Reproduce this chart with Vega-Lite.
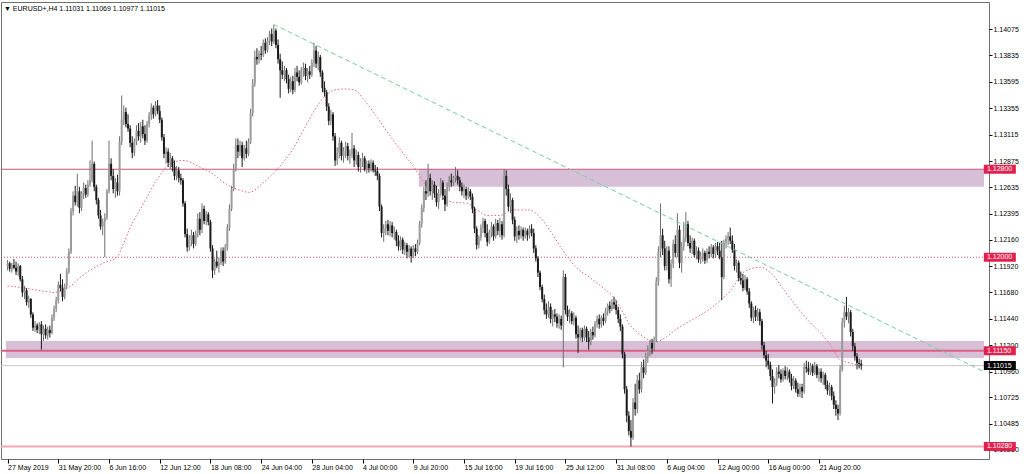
{
"$schema":"https://vega.github.io/schema/vega-lite/v6.json",
"width":988,"height":457,"autosize":{"type":"none"},
"padding":{"left":1,"top":2,"right":35,"bottom":15},
"background":"#ffffff",
"config":{"view":{"stroke":"#707070","strokeWidth":1},"font":"Liberation Sans","axis":{"labelOverlap":false,"labelBound":false,"labelFlush":false,"grid":false,"domain":false,"title":null}},
"title":{"text":"▼ EURUSD+,H4  1.11031 1.11069 1.10977 1.11015","anchor":"start","frame":"group","offset":-10,"dx":3,"font":"Liberation Sans","fontSize":7,"fontWeight":"normal","color":"#000000"},
"datasets":{
"bars":[
{"i":0,"o":1.11920,"h":1.11975,"l":1.11880,"c":1.11945},
{"i":1,"o":1.11945,"h":1.11960,"l":1.11870,"c":1.11895},
{"i":2,"o":1.11895,"h":1.11950,"l":1.11860,"c":1.11930},
{"i":3,"o":1.11930,"h":1.11985,"l":1.11890,"c":1.11905},
{"i":4,"o":1.11905,"h":1.11960,"l":1.11840,"c":1.11870},
{"i":5,"o":1.11870,"h":1.11945,"l":1.11830,"c":1.11920},
{"i":6,"o":1.11920,"h":1.11930,"l":1.11780,"c":1.11800},
{"i":7,"o":1.11800,"h":1.11830,"l":1.11640,"c":1.11680},
{"i":8,"o":1.11680,"h":1.11740,"l":1.11620,"c":1.11700},
{"i":9,"o":1.11700,"h":1.11720,"l":1.11560,"c":1.11590},
{"i":10,"o":1.11590,"h":1.11650,"l":1.11540,"c":1.11620},
{"i":11,"o":1.11620,"h":1.11630,"l":1.11450,"c":1.11480},
{"i":12,"o":1.11480,"h":1.11500,"l":1.11330,"c":1.11360},
{"i":13,"o":1.11360,"h":1.11420,"l":1.11320,"c":1.11380},
{"i":14,"o":1.11380,"h":1.11400,"l":1.11310,"c":1.11340},
{"i":15,"o":1.11340,"h":1.11410,"l":1.11300,"c":1.11390},
{"i":16,"o":1.11390,"h":1.11420,"l":1.11160,"c":1.11300},
{"i":17,"o":1.11300,"h":1.11380,"l":1.11240,"c":1.11350},
{"i":18,"o":1.11350,"h":1.11390,"l":1.11260,"c":1.11290},
{"i":19,"o":1.11290,"h":1.11370,"l":1.11250,"c":1.11340},
{"i":20,"o":1.11340,"h":1.11380,"l":1.11270,"c":1.11310},
{"i":21,"o":1.11310,"h":1.11480,"l":1.11300,"c":1.11450},
{"i":22,"o":1.11450,"h":1.11560,"l":1.11420,"c":1.11530},
{"i":23,"o":1.11530,"h":1.11640,"l":1.11500,"c":1.11610},
{"i":24,"o":1.11610,"h":1.11780,"l":1.11580,"c":1.11750},
{"i":25,"o":1.11750,"h":1.11850,"l":1.11690,"c":1.11720},
{"i":26,"o":1.11720,"h":1.11800,"l":1.11600,"c":1.11640},
{"i":27,"o":1.11640,"h":1.11760,"l":1.11620,"c":1.11740},
{"i":28,"o":1.11740,"h":1.11900,"l":1.11710,"c":1.11870},
{"i":29,"o":1.11870,"h":1.12080,"l":1.11850,"c":1.12050},
{"i":30,"o":1.12050,"h":1.12450,"l":1.12030,"c":1.12420},
{"i":31,"o":1.12420,"h":1.12600,"l":1.12380,"c":1.12560},
{"i":32,"o":1.12560,"h":1.12650,"l":1.12470,"c":1.12500},
{"i":33,"o":1.12500,"h":1.12760,"l":1.12460,"c":1.12600},
{"i":34,"o":1.12600,"h":1.12640,"l":1.12400,"c":1.12450},
{"i":35,"o":1.12450,"h":1.12600,"l":1.12420,"c":1.12580},
{"i":36,"o":1.12580,"h":1.12680,"l":1.12530,"c":1.12630},
{"i":37,"o":1.12630,"h":1.12660,"l":1.12540,"c":1.12570},
{"i":38,"o":1.12570,"h":1.12700,"l":1.12550,"c":1.12660},
{"i":39,"o":1.12660,"h":1.12880,"l":1.12640,"c":1.12700},
{"i":40,"o":1.12700,"h":1.13060,"l":1.12680,"c":1.12850},
{"i":41,"o":1.12850,"h":1.12870,"l":1.12600,"c":1.12640},
{"i":42,"o":1.12640,"h":1.12660,"l":1.12480,"c":1.12520},
{"i":43,"o":1.12520,"h":1.12540,"l":1.12350,"c":1.12380},
{"i":44,"o":1.12380,"h":1.12430,"l":1.12250,"c":1.12280},
{"i":45,"o":1.12280,"h":1.12350,"l":1.12200,"c":1.12320},
{"i":46,"o":1.12320,"h":1.12400,"l":1.12000,"c":1.12360},
{"i":47,"o":1.12360,"h":1.12620,"l":1.12340,"c":1.12600},
{"i":48,"o":1.12600,"h":1.13060,"l":1.12580,"c":1.12850},
{"i":49,"o":1.12850,"h":1.12900,"l":1.12700,"c":1.12740},
{"i":50,"o":1.12740,"h":1.12800,"l":1.12580,"c":1.12620},
{"i":51,"o":1.12620,"h":1.12720,"l":1.12540,"c":1.12680},
{"i":52,"o":1.12680,"h":1.12750,"l":1.12560,"c":1.12600},
{"i":53,"o":1.12600,"h":1.13100,"l":1.12560,"c":1.13050},
{"i":54,"o":1.13050,"h":1.13470,"l":1.13020,"c":1.13250},
{"i":55,"o":1.13250,"h":1.13380,"l":1.13200,"c":1.13320},
{"i":56,"o":1.13320,"h":1.13360,"l":1.13180,"c":1.13210},
{"i":57,"o":1.13210,"h":1.13300,"l":1.13140,"c":1.13170},
{"i":58,"o":1.13170,"h":1.13200,"l":1.13000,"c":1.13040},
{"i":59,"o":1.13040,"h":1.13100,"l":1.12900,"c":1.12950},
{"i":60,"o":1.12950,"h":1.13080,"l":1.12920,"c":1.13050},
{"i":61,"o":1.13050,"h":1.13200,"l":1.13020,"c":1.13150},
{"i":62,"o":1.13150,"h":1.13220,"l":1.13060,"c":1.13100},
{"i":63,"o":1.13100,"h":1.13230,"l":1.13040,"c":1.13190},
{"i":64,"o":1.13190,"h":1.13250,"l":1.13080,"c":1.13120},
{"i":65,"o":1.13120,"h":1.13200,"l":1.13020,"c":1.13060},
{"i":66,"o":1.13060,"h":1.13240,"l":1.13040,"c":1.13210},
{"i":67,"o":1.13210,"h":1.13320,"l":1.13180,"c":1.13290},
{"i":68,"o":1.13290,"h":1.13400,"l":1.13250,"c":1.13360},
{"i":69,"o":1.13360,"h":1.13380,"l":1.13260,"c":1.13300},
{"i":70,"o":1.13300,"h":1.13420,"l":1.13280,"c":1.13380},
{"i":71,"o":1.13380,"h":1.13430,"l":1.13300,"c":1.13330},
{"i":72,"o":1.13330,"h":1.13380,"l":1.13220,"c":1.13250},
{"i":73,"o":1.13250,"h":1.13270,"l":1.13060,"c":1.13090},
{"i":74,"o":1.13090,"h":1.13120,"l":1.12900,"c":1.12940},
{"i":75,"o":1.12940,"h":1.13000,"l":1.12850,"c":1.12960},
{"i":76,"o":1.12960,"h":1.12990,"l":1.12820,"c":1.12860},
{"i":77,"o":1.12860,"h":1.12950,"l":1.12800,"c":1.12900},
{"i":78,"o":1.12900,"h":1.12920,"l":1.12780,"c":1.12820},
{"i":79,"o":1.12820,"h":1.12880,"l":1.12700,"c":1.12740},
{"i":80,"o":1.12740,"h":1.12830,"l":1.12700,"c":1.12790},
{"i":81,"o":1.12790,"h":1.12820,"l":1.12680,"c":1.12720},
{"i":82,"o":1.12720,"h":1.12760,"l":1.12660,"c":1.12700},
{"i":83,"o":1.12700,"h":1.12720,"l":1.12460,"c":1.12490},
{"i":84,"o":1.12490,"h":1.12510,"l":1.12180,"c":1.12210},
{"i":85,"o":1.12210,"h":1.12260,"l":1.12050,"c":1.12090},
{"i":86,"o":1.12090,"h":1.12200,"l":1.12060,"c":1.12160},
{"i":87,"o":1.12160,"h":1.12250,"l":1.12100,"c":1.12200},
{"i":88,"o":1.12200,"h":1.12230,"l":1.12080,"c":1.12120},
{"i":89,"o":1.12120,"h":1.12240,"l":1.12100,"c":1.12220},
{"i":90,"o":1.12220,"h":1.12400,"l":1.12180,"c":1.12350},
{"i":91,"o":1.12350,"h":1.12410,"l":1.12200,"c":1.12250},
{"i":92,"o":1.12250,"h":1.12490,"l":1.12220,"c":1.12440},
{"i":93,"o":1.12440,"h":1.12470,"l":1.12300,"c":1.12330},
{"i":94,"o":1.12330,"h":1.12420,"l":1.12290,"c":1.12390},
{"i":95,"o":1.12390,"h":1.12410,"l":1.12290,"c":1.12320},
{"i":96,"o":1.12320,"h":1.12340,"l":1.12050,"c":1.12080},
{"i":97,"o":1.12080,"h":1.12110,"l":1.11810,"c":1.11880},
{"i":98,"o":1.11880,"h":1.11990,"l":1.11840,"c":1.11960},
{"i":99,"o":1.11960,"h":1.12060,"l":1.11900,"c":1.11920},
{"i":100,"o":1.11920,"h":1.12000,"l":1.11860,"c":1.11950},
{"i":101,"o":1.11950,"h":1.12090,"l":1.11930,"c":1.12060},
{"i":102,"o":1.12060,"h":1.12090,"l":1.11920,"c":1.11960},
{"i":103,"o":1.11960,"h":1.12120,"l":1.11940,"c":1.12090},
{"i":104,"o":1.12090,"h":1.12300,"l":1.12060,"c":1.12270},
{"i":105,"o":1.12270,"h":1.12480,"l":1.12240,"c":1.12440},
{"i":106,"o":1.12440,"h":1.12650,"l":1.12420,"c":1.12620},
{"i":107,"o":1.12620,"h":1.12850,"l":1.12600,"c":1.12800},
{"i":108,"o":1.12800,"h":1.13080,"l":1.12780,"c":1.13020},
{"i":109,"o":1.13020,"h":1.13080,"l":1.12900,"c":1.12960},
{"i":110,"o":1.12960,"h":1.13060,"l":1.12920,"c":1.13020},
{"i":111,"o":1.13020,"h":1.13050,"l":1.12820,"c":1.12900},
{"i":112,"o":1.12900,"h":1.13020,"l":1.12880,"c":1.12990},
{"i":113,"o":1.12990,"h":1.13060,"l":1.12900,"c":1.12940},
{"i":114,"o":1.12940,"h":1.13080,"l":1.12920,"c":1.13050},
{"i":115,"o":1.13050,"h":1.13350,"l":1.13030,"c":1.13310},
{"i":116,"o":1.13310,"h":1.13620,"l":1.13280,"c":1.13580},
{"i":117,"o":1.13580,"h":1.13880,"l":1.13550,"c":1.13820},
{"i":118,"o":1.13820,"h":1.13900,"l":1.13750,"c":1.13800},
{"i":119,"o":1.13800,"h":1.13880,"l":1.13760,"c":1.13850},
{"i":120,"o":1.13850,"h":1.13920,"l":1.13790,"c":1.13840},
{"i":121,"o":1.13840,"h":1.13980,"l":1.13820,"c":1.13950},
{"i":122,"o":1.13950,"h":1.13990,"l":1.13850,"c":1.13880},
{"i":123,"o":1.13880,"h":1.14000,"l":1.13860,"c":1.13970},
{"i":124,"o":1.13970,"h":1.14060,"l":1.13930,"c":1.14030},
{"i":125,"o":1.14030,"h":1.14080,"l":1.13920,"c":1.13960},
{"i":126,"o":1.13960,"h":1.14110,"l":1.13940,"c":1.14060},
{"i":127,"o":1.14060,"h":1.14080,"l":1.13900,"c":1.13930},
{"i":128,"o":1.13930,"h":1.13980,"l":1.13760,"c":1.13800},
{"i":129,"o":1.13800,"h":1.13850,"l":1.13450,"c":1.13700},
{"i":130,"o":1.13700,"h":1.13780,"l":1.13620,"c":1.13660},
{"i":131,"o":1.13660,"h":1.13740,"l":1.13600,"c":1.13700},
{"i":132,"o":1.13700,"h":1.13720,"l":1.13580,"c":1.13620},
{"i":133,"o":1.13620,"h":1.13660,"l":1.13490,"c":1.13530},
{"i":134,"o":1.13530,"h":1.13640,"l":1.13500,"c":1.13600},
{"i":135,"o":1.13600,"h":1.13650,"l":1.13480,"c":1.13520},
{"i":136,"o":1.13520,"h":1.13720,"l":1.13500,"c":1.13680},
{"i":137,"o":1.13680,"h":1.13740,"l":1.13600,"c":1.13640},
{"i":138,"o":1.13640,"h":1.13700,"l":1.13560,"c":1.13590},
{"i":139,"o":1.13590,"h":1.13730,"l":1.13570,"c":1.13700},
{"i":140,"o":1.13700,"h":1.13770,"l":1.13640,"c":1.13720},
{"i":141,"o":1.13720,"h":1.13760,"l":1.13610,"c":1.13650},
{"i":142,"o":1.13650,"h":1.13720,"l":1.13590,"c":1.13690},
{"i":143,"o":1.13690,"h":1.13740,"l":1.13620,"c":1.13660},
{"i":144,"o":1.13660,"h":1.13800,"l":1.13640,"c":1.13770},
{"i":145,"o":1.13770,"h":1.13950,"l":1.13730,"c":1.13880},
{"i":146,"o":1.13880,"h":1.13920,"l":1.13720,"c":1.13760},
{"i":147,"o":1.13760,"h":1.13870,"l":1.13700,"c":1.13820},
{"i":148,"o":1.13820,"h":1.13840,"l":1.13640,"c":1.13680},
{"i":149,"o":1.13680,"h":1.13700,"l":1.13500,"c":1.13540},
{"i":150,"o":1.13540,"h":1.13600,"l":1.13460,"c":1.13500},
{"i":151,"o":1.13500,"h":1.13520,"l":1.13330,"c":1.13370},
{"i":152,"o":1.13370,"h":1.13400,"l":1.13200,"c":1.13240},
{"i":153,"o":1.13240,"h":1.13340,"l":1.13200,"c":1.13300},
{"i":154,"o":1.13300,"h":1.13320,"l":1.13060,"c":1.13100},
{"i":155,"o":1.13100,"h":1.13130,"l":1.12830,"c":1.12880},
{"i":156,"o":1.12880,"h":1.13000,"l":1.12840,"c":1.12950},
{"i":157,"o":1.12950,"h":1.13090,"l":1.12900,"c":1.13040},
{"i":158,"o":1.13040,"h":1.13060,"l":1.12880,"c":1.12920},
{"i":159,"o":1.12920,"h":1.13000,"l":1.12860,"c":1.12970},
{"i":160,"o":1.12970,"h":1.13050,"l":1.12900,"c":1.13010},
{"i":161,"o":1.13010,"h":1.13040,"l":1.12880,"c":1.12920},
{"i":162,"o":1.12920,"h":1.12980,"l":1.12850,"c":1.12940},
{"i":163,"o":1.12940,"h":1.13130,"l":1.12900,"c":1.12990},
{"i":164,"o":1.12990,"h":1.13020,"l":1.12820,"c":1.12880},
{"i":165,"o":1.12880,"h":1.12980,"l":1.12840,"c":1.12930},
{"i":166,"o":1.12930,"h":1.12960,"l":1.12780,"c":1.12820},
{"i":167,"o":1.12820,"h":1.12900,"l":1.12770,"c":1.12870},
{"i":168,"o":1.12870,"h":1.12950,"l":1.12820,"c":1.12900},
{"i":169,"o":1.12900,"h":1.12920,"l":1.12780,"c":1.12800},
{"i":170,"o":1.12800,"h":1.12880,"l":1.12760,"c":1.12850},
{"i":171,"o":1.12850,"h":1.12880,"l":1.12770,"c":1.12810},
{"i":172,"o":1.12810,"h":1.12890,"l":1.12780,"c":1.12860},
{"i":173,"o":1.12860,"h":1.12880,"l":1.12770,"c":1.12790},
{"i":174,"o":1.12790,"h":1.12840,"l":1.12740,"c":1.12780},
{"i":175,"o":1.12780,"h":1.12820,"l":1.12700,"c":1.12740},
{"i":176,"o":1.12740,"h":1.12760,"l":1.12420,"c":1.12460},
{"i":177,"o":1.12460,"h":1.12480,"l":1.12180,"c":1.12220},
{"i":178,"o":1.12220,"h":1.12300,"l":1.12140,"c":1.12260},
{"i":179,"o":1.12260,"h":1.12330,"l":1.12200,"c":1.12300},
{"i":180,"o":1.12300,"h":1.12340,"l":1.12200,"c":1.12240},
{"i":181,"o":1.12240,"h":1.12330,"l":1.12190,"c":1.12290},
{"i":182,"o":1.12290,"h":1.12320,"l":1.12180,"c":1.12220},
{"i":183,"o":1.12220,"h":1.12280,"l":1.12160,"c":1.12230},
{"i":184,"o":1.12230,"h":1.12250,"l":1.12100,"c":1.12150},
{"i":185,"o":1.12150,"h":1.12200,"l":1.12060,"c":1.12100},
{"i":186,"o":1.12100,"h":1.12190,"l":1.12060,"c":1.12160},
{"i":187,"o":1.12160,"h":1.12180,"l":1.12030,"c":1.12070},
{"i":188,"o":1.12070,"h":1.12140,"l":1.12020,"c":1.12110},
{"i":189,"o":1.12110,"h":1.12130,"l":1.11990,"c":1.12050},
{"i":190,"o":1.12050,"h":1.12110,"l":1.12000,"c":1.12080},
{"i":191,"o":1.12080,"h":1.12100,"l":1.11950,"c":1.12010},
{"i":192,"o":1.12010,"h":1.12110,"l":1.11990,"c":1.12080},
{"i":193,"o":1.12080,"h":1.12120,"l":1.12010,"c":1.12050},
{"i":194,"o":1.12050,"h":1.12160,"l":1.12030,"c":1.12130},
{"i":195,"o":1.12130,"h":1.12330,"l":1.12110,"c":1.12300},
{"i":196,"o":1.12300,"h":1.12480,"l":1.12270,"c":1.12450},
{"i":197,"o":1.12450,"h":1.12640,"l":1.12410,"c":1.12600},
{"i":198,"o":1.12600,"h":1.12700,"l":1.12520,"c":1.12580},
{"i":199,"o":1.12580,"h":1.12850,"l":1.12550,"c":1.12720},
{"i":200,"o":1.12720,"h":1.12760,"l":1.12560,"c":1.12600},
{"i":201,"o":1.12600,"h":1.12700,"l":1.12520,"c":1.12660},
{"i":202,"o":1.12660,"h":1.12690,"l":1.12540,"c":1.12580},
{"i":203,"o":1.12580,"h":1.12650,"l":1.12460,"c":1.12500},
{"i":204,"o":1.12500,"h":1.12620,"l":1.12440,"c":1.12580},
{"i":205,"o":1.12580,"h":1.12720,"l":1.12560,"c":1.12680},
{"i":206,"o":1.12680,"h":1.12700,"l":1.12520,"c":1.12560},
{"i":207,"o":1.12560,"h":1.12620,"l":1.12420,"c":1.12480},
{"i":208,"o":1.12480,"h":1.12680,"l":1.12460,"c":1.12640},
{"i":209,"o":1.12640,"h":1.12740,"l":1.12600,"c":1.12700},
{"i":210,"o":1.12700,"h":1.12760,"l":1.12640,"c":1.12680},
{"i":211,"o":1.12680,"h":1.12740,"l":1.12650,"c":1.12720},
{"i":212,"o":1.12720,"h":1.12820,"l":1.12680,"c":1.12740},
{"i":213,"o":1.12740,"h":1.12790,"l":1.12660,"c":1.12700},
{"i":214,"o":1.12700,"h":1.12730,"l":1.12600,"c":1.12640},
{"i":215,"o":1.12640,"h":1.12680,"l":1.12560,"c":1.12600},
{"i":216,"o":1.12600,"h":1.12660,"l":1.12540,"c":1.12620},
{"i":217,"o":1.12620,"h":1.12640,"l":1.12520,"c":1.12560},
{"i":218,"o":1.12560,"h":1.12640,"l":1.12530,"c":1.12600},
{"i":219,"o":1.12600,"h":1.12620,"l":1.12520,"c":1.12550},
{"i":220,"o":1.12550,"h":1.12580,"l":1.12400,"c":1.12440},
{"i":221,"o":1.12440,"h":1.12460,"l":1.12220,"c":1.12260},
{"i":222,"o":1.12260,"h":1.12280,"l":1.12070,"c":1.12110},
{"i":223,"o":1.12110,"h":1.12200,"l":1.12080,"c":1.12180},
{"i":224,"o":1.12180,"h":1.12300,"l":1.12150,"c":1.12270},
{"i":225,"o":1.12270,"h":1.12360,"l":1.12220,"c":1.12330},
{"i":226,"o":1.12330,"h":1.12350,"l":1.12180,"c":1.12220},
{"i":227,"o":1.12220,"h":1.12300,"l":1.12100,"c":1.12140},
{"i":228,"o":1.12140,"h":1.12250,"l":1.12120,"c":1.12230},
{"i":229,"o":1.12230,"h":1.12320,"l":1.12180,"c":1.12280},
{"i":230,"o":1.12280,"h":1.12300,"l":1.12150,"c":1.12190},
{"i":231,"o":1.12190,"h":1.12350,"l":1.12170,"c":1.12310},
{"i":232,"o":1.12310,"h":1.12340,"l":1.12200,"c":1.12240},
{"i":233,"o":1.12240,"h":1.12360,"l":1.12180,"c":1.12300},
{"i":234,"o":1.12300,"h":1.12330,"l":1.12160,"c":1.12200},
{"i":235,"o":1.12200,"h":1.12800,"l":1.12180,"c":1.12740},
{"i":236,"o":1.12740,"h":1.12790,"l":1.12560,"c":1.12620},
{"i":237,"o":1.12620,"h":1.12660,"l":1.12420,"c":1.12460},
{"i":238,"o":1.12460,"h":1.12580,"l":1.12400,"c":1.12520},
{"i":239,"o":1.12520,"h":1.12540,"l":1.12300,"c":1.12340},
{"i":240,"o":1.12340,"h":1.12370,"l":1.12150,"c":1.12190},
{"i":241,"o":1.12190,"h":1.12280,"l":1.12130,"c":1.12240},
{"i":242,"o":1.12240,"h":1.12290,"l":1.12160,"c":1.12200},
{"i":243,"o":1.12200,"h":1.12280,"l":1.12170,"c":1.12250},
{"i":244,"o":1.12250,"h":1.12270,"l":1.12150,"c":1.12190},
{"i":245,"o":1.12190,"h":1.12270,"l":1.12170,"c":1.12240},
{"i":246,"o":1.12240,"h":1.12260,"l":1.12150,"c":1.12200},
{"i":247,"o":1.12200,"h":1.12290,"l":1.12170,"c":1.12260},
{"i":248,"o":1.12260,"h":1.12300,"l":1.12190,"c":1.12220},
{"i":249,"o":1.12220,"h":1.12260,"l":1.12040,"c":1.12080},
{"i":250,"o":1.12080,"h":1.12110,"l":1.11960,"c":1.11990},
{"i":251,"o":1.11990,"h":1.12010,"l":1.11820,"c":1.11860},
{"i":252,"o":1.11860,"h":1.11880,"l":1.11700,"c":1.11730},
{"i":253,"o":1.11730,"h":1.11750,"l":1.11590,"c":1.11620},
{"i":254,"o":1.11620,"h":1.11660,"l":1.11480,"c":1.11520},
{"i":255,"o":1.11520,"h":1.11580,"l":1.11440,"c":1.11480},
{"i":256,"o":1.11480,"h":1.11600,"l":1.11450,"c":1.11550},
{"i":257,"o":1.11550,"h":1.11580,"l":1.11400,"c":1.11440},
{"i":258,"o":1.11440,"h":1.11520,"l":1.11370,"c":1.11480},
{"i":259,"o":1.11480,"h":1.11530,"l":1.11410,"c":1.11460},
{"i":260,"o":1.11460,"h":1.11490,"l":1.11360,"c":1.11400},
{"i":261,"o":1.11400,"h":1.11480,"l":1.11350,"c":1.11440},
{"i":262,"o":1.11440,"h":1.11470,"l":1.11340,"c":1.11380},
{"i":263,"o":1.11380,"h":1.11880,"l":1.11000,"c":1.11820},
{"i":264,"o":1.11820,"h":1.11850,"l":1.11480,"c":1.11520},
{"i":265,"o":1.11520,"h":1.11560,"l":1.11420,"c":1.11460},
{"i":266,"o":1.11460,"h":1.11530,"l":1.11400,"c":1.11490},
{"i":267,"o":1.11490,"h":1.11510,"l":1.11390,"c":1.11420},
{"i":268,"o":1.11420,"h":1.11500,"l":1.11380,"c":1.11450},
{"i":269,"o":1.11450,"h":1.11470,"l":1.11260,"c":1.11300},
{"i":270,"o":1.11300,"h":1.11380,"l":1.11130,"c":1.11270},
{"i":271,"o":1.11270,"h":1.11360,"l":1.11240,"c":1.11340},
{"i":272,"o":1.11340,"h":1.11360,"l":1.11230,"c":1.11270},
{"i":273,"o":1.11270,"h":1.11380,"l":1.11240,"c":1.11350},
{"i":274,"o":1.11350,"h":1.11370,"l":1.11230,"c":1.11270},
{"i":275,"o":1.11270,"h":1.11330,"l":1.11160,"c":1.11230},
{"i":276,"o":1.11230,"h":1.11350,"l":1.11200,"c":1.11320},
{"i":277,"o":1.11320,"h":1.11370,"l":1.11250,"c":1.11290},
{"i":278,"o":1.11290,"h":1.11420,"l":1.11270,"c":1.11400},
{"i":279,"o":1.11400,"h":1.11470,"l":1.11360,"c":1.11440},
{"i":280,"o":1.11440,"h":1.11480,"l":1.11350,"c":1.11390},
{"i":281,"o":1.11390,"h":1.11470,"l":1.11360,"c":1.11450},
{"i":282,"o":1.11450,"h":1.11490,"l":1.11380,"c":1.11420},
{"i":283,"o":1.11420,"h":1.11540,"l":1.11400,"c":1.11510},
{"i":284,"o":1.11510,"h":1.11580,"l":1.11470,"c":1.11560},
{"i":285,"o":1.11560,"h":1.11600,"l":1.11490,"c":1.11530},
{"i":286,"o":1.11530,"h":1.11620,"l":1.11510,"c":1.11590},
{"i":287,"o":1.11590,"h":1.11640,"l":1.11530,"c":1.11570},
{"i":288,"o":1.11570,"h":1.11610,"l":1.11480,"c":1.11520},
{"i":289,"o":1.11520,"h":1.11550,"l":1.11400,"c":1.11440},
{"i":290,"o":1.11440,"h":1.11480,"l":1.11330,"c":1.11370},
{"i":291,"o":1.11370,"h":1.11390,"l":1.11080,"c":1.11120},
{"i":292,"o":1.11120,"h":1.11140,"l":1.10760,"c":1.10800},
{"i":293,"o":1.10800,"h":1.10830,"l":1.10500,"c":1.10560},
{"i":294,"o":1.10560,"h":1.10600,"l":1.10380,"c":1.10420},
{"i":295,"o":1.10420,"h":1.10520,"l":1.10280,"c":1.10360},
{"i":296,"o":1.10360,"h":1.10720,"l":1.10340,"c":1.10680},
{"i":297,"o":1.10680,"h":1.10850,"l":1.10560,"c":1.10620},
{"i":298,"o":1.10620,"h":1.10930,"l":1.10580,"c":1.10880},
{"i":299,"o":1.10880,"h":1.10950,"l":1.10760,"c":1.10800},
{"i":300,"o":1.10800,"h":1.11050,"l":1.10770,"c":1.11000},
{"i":301,"o":1.11000,"h":1.11070,"l":1.10900,"c":1.10950},
{"i":302,"o":1.10950,"h":1.11130,"l":1.10930,"c":1.11100},
{"i":303,"o":1.11100,"h":1.11200,"l":1.11040,"c":1.11150},
{"i":304,"o":1.11150,"h":1.11250,"l":1.11100,"c":1.11220},
{"i":305,"o":1.11220,"h":1.11260,"l":1.11120,"c":1.11170},
{"i":306,"o":1.11170,"h":1.11280,"l":1.11150,"c":1.11250},
{"i":307,"o":1.11250,"h":1.11820,"l":1.11230,"c":1.11780},
{"i":308,"o":1.11780,"h":1.12100,"l":1.11740,"c":1.12050},
{"i":309,"o":1.12050,"h":1.12490,"l":1.12000,"c":1.12200},
{"i":310,"o":1.12200,"h":1.12260,"l":1.12020,"c":1.12080},
{"i":311,"o":1.12080,"h":1.12150,"l":1.11880,"c":1.11920},
{"i":312,"o":1.11920,"h":1.12100,"l":1.11880,"c":1.12060},
{"i":313,"o":1.12060,"h":1.12100,"l":1.11760,"c":1.11800},
{"i":314,"o":1.11800,"h":1.11980,"l":1.11730,"c":1.11940},
{"i":315,"o":1.11940,"h":1.12160,"l":1.11900,"c":1.12120},
{"i":316,"o":1.12120,"h":1.12200,"l":1.12000,"c":1.12040},
{"i":317,"o":1.12040,"h":1.12400,"l":1.12000,"c":1.12250},
{"i":318,"o":1.12250,"h":1.12290,"l":1.11900,"c":1.11950},
{"i":319,"o":1.11950,"h":1.12140,"l":1.11860,"c":1.12100},
{"i":320,"o":1.12100,"h":1.12320,"l":1.12060,"c":1.12180},
{"i":321,"o":1.12180,"h":1.12410,"l":1.12140,"c":1.12300},
{"i":322,"o":1.12300,"h":1.12330,"l":1.12100,"c":1.12130},
{"i":323,"o":1.12130,"h":1.12200,"l":1.12040,"c":1.12080},
{"i":324,"o":1.12080,"h":1.12180,"l":1.12030,"c":1.12150},
{"i":325,"o":1.12150,"h":1.12170,"l":1.12000,"c":1.12020},
{"i":326,"o":1.12020,"h":1.12100,"l":1.11980,"c":1.12060},
{"i":327,"o":1.12060,"h":1.12090,"l":1.11950,"c":1.11980},
{"i":328,"o":1.11980,"h":1.12050,"l":1.11940,"c":1.12010},
{"i":329,"o":1.12010,"h":1.12080,"l":1.11960,"c":1.12040},
{"i":330,"o":1.12040,"h":1.12060,"l":1.11940,"c":1.11970},
{"i":331,"o":1.11970,"h":1.12080,"l":1.11950,"c":1.12050},
{"i":332,"o":1.12050,"h":1.12100,"l":1.11990,"c":1.12030},
{"i":333,"o":1.12030,"h":1.12120,"l":1.12000,"c":1.12090},
{"i":334,"o":1.12090,"h":1.12110,"l":1.11990,"c":1.12030},
{"i":335,"o":1.12030,"h":1.12130,"l":1.12000,"c":1.12100},
{"i":336,"o":1.12100,"h":1.12140,"l":1.12020,"c":1.12060},
{"i":337,"o":1.12060,"h":1.12130,"l":1.11980,"c":1.12000},
{"i":338,"o":1.12000,"h":1.12150,"l":1.11610,"c":1.11820},
{"i":339,"o":1.11820,"h":1.12160,"l":1.11800,"c":1.12130},
{"i":340,"o":1.12130,"h":1.12200,"l":1.12080,"c":1.12170},
{"i":341,"o":1.12170,"h":1.12230,"l":1.12110,"c":1.12190},
{"i":342,"o":1.12190,"h":1.12270,"l":1.12120,"c":1.12150},
{"i":343,"o":1.12150,"h":1.12200,"l":1.12040,"c":1.12070},
{"i":344,"o":1.12070,"h":1.12120,"l":1.11880,"c":1.11920},
{"i":345,"o":1.11920,"h":1.11980,"l":1.11860,"c":1.11950},
{"i":346,"o":1.11950,"h":1.11970,"l":1.11780,"c":1.11810},
{"i":347,"o":1.11810,"h":1.11870,"l":1.11750,"c":1.11790},
{"i":348,"o":1.11790,"h":1.11850,"l":1.11690,"c":1.11720},
{"i":349,"o":1.11720,"h":1.11840,"l":1.11700,"c":1.11800},
{"i":350,"o":1.11800,"h":1.11820,"l":1.11660,"c":1.11690},
{"i":351,"o":1.11690,"h":1.11720,"l":1.11540,"c":1.11580},
{"i":352,"o":1.11580,"h":1.11600,"l":1.11420,"c":1.11450},
{"i":353,"o":1.11450,"h":1.11550,"l":1.11400,"c":1.11520},
{"i":354,"o":1.11520,"h":1.11560,"l":1.11420,"c":1.11460},
{"i":355,"o":1.11460,"h":1.11540,"l":1.11420,"c":1.11500},
{"i":356,"o":1.11500,"h":1.11530,"l":1.11380,"c":1.11420},
{"i":357,"o":1.11420,"h":1.11440,"l":1.11160,"c":1.11200},
{"i":358,"o":1.11200,"h":1.11230,"l":1.11080,"c":1.11110},
{"i":359,"o":1.11110,"h":1.11150,"l":1.11000,"c":1.11060},
{"i":360,"o":1.11060,"h":1.11120,"l":1.10980,"c":1.11020},
{"i":361,"o":1.11020,"h":1.11050,"l":1.10880,"c":1.10920},
{"i":362,"o":1.10920,"h":1.10980,"l":1.10670,"c":1.10820},
{"i":363,"o":1.10820,"h":1.10900,"l":1.10760,"c":1.10860},
{"i":364,"o":1.10860,"h":1.11000,"l":1.10830,"c":1.10960},
{"i":365,"o":1.10960,"h":1.11020,"l":1.10900,"c":1.10940},
{"i":366,"o":1.10940,"h":1.10980,"l":1.10860,"c":1.10890},
{"i":367,"o":1.10890,"h":1.10990,"l":1.10870,"c":1.10970},
{"i":368,"o":1.10970,"h":1.11010,"l":1.10890,"c":1.10920},
{"i":369,"o":1.10920,"h":1.11000,"l":1.10880,"c":1.10960},
{"i":370,"o":1.10960,"h":1.10980,"l":1.10860,"c":1.10900},
{"i":371,"o":1.10900,"h":1.10940,"l":1.10790,"c":1.10830},
{"i":372,"o":1.10830,"h":1.10920,"l":1.10800,"c":1.10880},
{"i":373,"o":1.10880,"h":1.10900,"l":1.10770,"c":1.10800},
{"i":374,"o":1.10800,"h":1.10860,"l":1.10730,"c":1.10760},
{"i":375,"o":1.10760,"h":1.10850,"l":1.10730,"c":1.10820},
{"i":376,"o":1.10820,"h":1.10850,"l":1.10720,"c":1.10780},
{"i":377,"o":1.10780,"h":1.11040,"l":1.10760,"c":1.11000},
{"i":378,"o":1.11000,"h":1.11060,"l":1.10950,"c":1.10990},
{"i":379,"o":1.10990,"h":1.11050,"l":1.10930,"c":1.10960},
{"i":380,"o":1.10960,"h":1.11040,"l":1.10930,"c":1.11010},
{"i":381,"o":1.11010,"h":1.11030,"l":1.10920,"c":1.10950},
{"i":382,"o":1.10950,"h":1.11050,"l":1.10930,"c":1.11010},
{"i":383,"o":1.11010,"h":1.11030,"l":1.10900,"c":1.10930},
{"i":384,"o":1.10930,"h":1.10990,"l":1.10870,"c":1.10960},
{"i":385,"o":1.10960,"h":1.10990,"l":1.10860,"c":1.10900},
{"i":386,"o":1.10900,"h":1.10960,"l":1.10840,"c":1.10930},
{"i":387,"o":1.10930,"h":1.10950,"l":1.10800,"c":1.10840},
{"i":388,"o":1.10840,"h":1.10880,"l":1.10750,"c":1.10790},
{"i":389,"o":1.10790,"h":1.10860,"l":1.10740,"c":1.10820},
{"i":390,"o":1.10820,"h":1.10840,"l":1.10700,"c":1.10740},
{"i":391,"o":1.10740,"h":1.10780,"l":1.10620,"c":1.10660},
{"i":392,"o":1.10660,"h":1.10700,"l":1.10560,"c":1.10620},
{"i":393,"o":1.10620,"h":1.10660,"l":1.10520,"c":1.10580},
{"i":394,"o":1.10580,"h":1.11020,"l":1.10560,"c":1.10980},
{"i":395,"o":1.10980,"h":1.11450,"l":1.10960,"c":1.11410},
{"i":396,"o":1.11410,"h":1.11560,"l":1.11360,"c":1.11500},
{"i":397,"o":1.11500,"h":1.11640,"l":1.11430,"c":1.11460},
{"i":398,"o":1.11460,"h":1.11540,"l":1.11400,"c":1.11500},
{"i":399,"o":1.11500,"h":1.11520,"l":1.11280,"c":1.11320},
{"i":400,"o":1.11320,"h":1.11350,"l":1.11150,"c":1.11190},
{"i":401,"o":1.11190,"h":1.11220,"l":1.11060,"c":1.11100},
{"i":402,"o":1.11100,"h":1.11130,"l":1.10980,"c":1.11040},
{"i":403,"o":1.11040,"h":1.11080,"l":1.10990,"c":1.11031},
{"i":404,"o":1.11031,"h":1.11069,"l":1.10977,"c":1.11015}
],
"ma":[
{"i":0,"m":1.1174},{"i":8,"m":1.1172},{"i":17.5,"m":1.1169},{"i":22,"m":1.1168},{"i":27,"m":1.1171},{"i":30,"m":1.1174},{"i":34,"m":1.1181},{"i":38,"m":1.1187},{"i":45.6,"m":1.1195},{"i":51.7,"m":1.1200},{"i":55,"m":1.1213},{"i":58.3,"m":1.1228},{"i":64.4,"m":1.1249},{"i":70.5,"m":1.1270},{"i":77,"m":1.1285},{"i":83,"m":1.1288},{"i":91,"m":1.1282},{"i":97,"m":1.1276},{"i":103,"m":1.1267},{"i":109.8,"m":1.1261},{"i":114.5,"m":1.1259},{"i":120.6,"m":1.1267},{"i":128.5,"m":1.1282},{"i":134.6,"m":1.1297},{"i":140.7,"m":1.1318},{"i":145.4,"m":1.1334},{"i":150,"m":1.1346},{"i":154.8,"m":1.1352},{"i":159.5,"m":1.1353},{"i":164.2,"m":1.1352},{"i":168.8,"m":1.1343},{"i":173.5,"m":1.1331},{"i":180,"m":1.1313},{"i":186.2,"m":1.1297},{"i":192.3,"m":1.1282},{"i":198.8,"m":1.1264},{"i":204.9,"m":1.1255},{"i":211,"m":1.1250},{"i":217.6,"m":1.1249},{"i":222.2,"m":1.1243},{"i":227,"m":1.1238},{"i":233,"m":1.1238},{"i":239,"m":1.1243},{"i":247,"m":1.1243},{"i":251.7,"m":1.1237},{"i":256.5,"m":1.1225},{"i":262.5,"m":1.1207},{"i":269,"m":1.1191},{"i":275.2,"m":1.1182},{"i":281.3,"m":1.1173},{"i":287.8,"m":1.1161},{"i":290.6,"m":1.1152},{"i":294,"m":1.1140},{"i":298.6,"m":1.1131},{"i":303.3,"m":1.1125},{"i":306.6,"m":1.1123},{"i":311.3,"m":1.1127},{"i":316,"m":1.1134},{"i":322,"m":1.1141},{"i":326.7,"m":1.1146},{"i":337.5,"m":1.1161},{"i":342.2,"m":1.1170},{"i":348.7,"m":1.1187},{"i":356.2,"m":1.1191},{"i":361,"m":1.1186},{"i":367.5,"m":1.1170},{"i":373.5,"m":1.1155},{"i":379.6,"m":1.1141},{"i":386.2,"m":1.1128},{"i":390.9,"m":1.1116},{"i":393.7,"m":1.1107},{"i":398.4,"m":1.1104},{"i":404,"m":1.1101}
],
"trend":[{"i":125.8,"p":1.14118},{"i":462.1,"p":1.1096}],
"zones":[{"a":194.6,"b":462.1,"lo":1.1264,"hi":1.1280},{"a":-0.75,"b":462.1,"lo":1.11084,"hi":1.11239}],
"tags":[{"p":1.128},{"p":1.12},{"p":1.1115},{"p":1.11015},{"p":1.1028}]
},
"layer":[
{"data":{"name":"zones"},"mark":{"type":"rect","color":"#d8bfd8"},
 "encoding":{
  "x":{"field":"a","type":"quantitative","scale":{"domain":[-0.75,462.1],"nice":false,"zero":false},
   "axis":{"orient":"bottom","values":[0,24,48,72,96,120,144,168,192,216,240,264,288,312,336,360,384],
    "labelExpr":"['27 May 2019','31 May 20:00','6 Jun 16:00','12 Jun 12:00','18 Jun 08:00','24 Jun 04:00','28 Jun 04:00','4 Jul 00:00','9 Jul 20:00','15 Jul 16:00','19 Jul 16:00','25 Jul 12:00','31 Jul 08:00','6 Aug 04:00','12 Aug 00:00','16 Aug 00:00','21 Aug 20:00'][round(datum.value/24)]",
    "labelAlign":"left","labelBaseline":"top","labelDx":1,"labelPadding":0,"tickSize":4,"tickColor":"#000000","labelColor":"#000000","labelFont":"Liberation Sans","labelFontSize":7,"labelOverlap":false,"labelFlush":false,"labelBound":false,"domain":false,"grid":false,"title":null}},
  "x2":{"field":"b"},
  "y":{"field":"lo","type":"quantitative","scale":{"domain":[1.101659,1.143205],"nice":false,"zero":false},
   "axis":{"orient":"right","values":[1.14075,1.13835,1.13595,1.13355,1.13115,1.12875,1.12635,1.12395,1.1216,1.1192,1.1168,1.1144,1.112,1.1096,1.10725,1.10485,1.1025],
    "tickCount":17,"format":".5f","tickSize":3,"tickColor":"#000000","labelPadding":1,"labelColor":"#000000","labelFont":"Liberation Sans","labelFontSize":7,"labelOverlap":false,"labelBound":false,"labelFlush":false,"domain":false,"grid":false,"title":null}},
  "y2":{"field":"hi"}}},
{"data":{"values":[{"p":1.128}]},"mark":{"type":"rule","color":"#cc5577","strokeWidth":1},"encoding":{"y":{"field":"p","type":"quantitative"}}},
{"data":{"values":[{"p":1.12}]},"mark":{"type":"rule","color":"#cc5577","strokeWidth":1,"strokeDash":[1,2]},"encoding":{"y":{"field":"p","type":"quantitative"}}},
{"data":{"values":[{"p":1.1115}]},"mark":{"type":"rule","color":"#d9607e","strokeWidth":2},"encoding":{"y":{"field":"p","type":"quantitative"}}},
{"data":{"values":[{"p":1.11015}]},"mark":{"type":"rule","color":"#c8c8c8","strokeWidth":1},"encoding":{"y":{"field":"p","type":"quantitative"}}},
{"data":{"values":[{"p":1.1028}]},"mark":{"type":"rule","color":"#f2a7b6","strokeWidth":2},"encoding":{"y":{"field":"p","type":"quantitative"}}},
{"data":{"name":"ma"},"mark":{"type":"line","color":"#e8637f","strokeWidth":1,"strokeDash":[1.5,2],"interpolate":"monotone"},
 "encoding":{"x":{"field":"i","type":"quantitative"},"y":{"field":"m","type":"quantitative"}}},
{"data":{"name":"bars"},"mark":{"type":"rule","strokeWidth":1},
 "encoding":{"x":{"field":"i","type":"quantitative"},"y":{"field":"l","type":"quantitative"},"y2":{"field":"h"},
  "color":{"condition":{"test":"datum.c >= datum.o","value":"#6e6e6e"},"value":"#1a1a1a"}}},
{"data":{"name":"bars"},"mark":{"type":"bar","size":2},
 "encoding":{"x":{"field":"i","type":"quantitative"},"y":{"field":"o","type":"quantitative"},"y2":{"field":"c"},
  "color":{"condition":{"test":"datum.c >= datum.o","value":"#9c9c9c"},"value":"#1a1a1a"}}},
{"data":{"name":"trend"},"mark":{"type":"line","color":"#74cfa2","strokeWidth":1,"strokeDash":[5,3]},
 "encoding":{"x":{"field":"i","type":"quantitative"},"y":{"field":"p","type":"quantitative"}}},
{"data":{"name":"tags"},"mark":{"type":"tick","orient":"horizontal","size":32,"thickness":9,"opacity":1,"clip":false},
 "encoding":{"x":{"datum":469.6,"type":"quantitative"},"y":{"field":"p","type":"quantitative"},
  "color":{"condition":{"test":"datum.p == 1.11015","value":"#000000"},"value":"#e0214f"}}},
{"data":{"name":"tags"},"mark":{"type":"text","align":"left","baseline":"middle","color":"#ffffff","font":"Liberation Sans","fontSize":7,"clip":false},
 "encoding":{"x":{"datum":463.5,"type":"quantitative"},"y":{"field":"p","type":"quantitative"},"text":{"field":"p","type":"quantitative","format":".5f"}}}
]
}
